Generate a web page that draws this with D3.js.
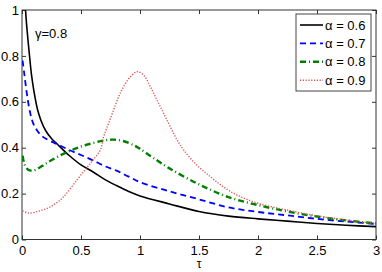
<!DOCTYPE html>
<html>
<head>
<meta charset="utf-8">
<script src="https://cdn.jsdelivr.net/npm/d3@7"></script>
<style>
  body { margin: 0; background: #fff; }
  svg { display: block; font-family: "Liberation Sans", Arial, sans-serif; }
</style>
</head>
<body>
<svg id="chart" width="382" height="272"></svg>
<script>
// data
var xTicks = [0, 0.5, 1, 1.5, 2, 2.5, 3];
var yTicks = [0, 0.2, 0.4, 0.6, 0.8, 1];
var xTickLabels = ["0", "0.5", "1", "1.5", "2", "2.5", "3"];
var yTickLabels = ["0", "0.2", "0.4", "0.6", "0.8", "1"];
var seriesNames = ["\u03b1 = 0.6", "\u03b1 = 0.7", "\u03b1 = 0.8", "\u03b1 = 0.9"];

var tau06 = [0.03, 0.04, 0.06, 0.08, 0.1, 0.13, 0.16, 0.2, 0.25, 0.3, 0.4, 0.5, 0.6, 0.7, 0.8, 0.9, 1.0, 1.25, 1.5, 1.75, 2.0, 2.25, 2.5, 2.75, 3.0];
var val06 = [1.0, 0.93, 0.82, 0.72, 0.65, 0.57, 0.52, 0.475, 0.44, 0.415, 0.366, 0.325, 0.295, 0.262, 0.235, 0.21, 0.19, 0.155, 0.122, 0.102, 0.09, 0.08, 0.07, 0.062, 0.056];

var tau07 = [0.005, 0.02, 0.04, 0.07, 0.1, 0.15, 0.2, 0.3, 0.4, 0.5, 0.6, 0.7, 0.8, 0.9, 1.0, 1.25, 1.5, 1.75, 2.0, 2.25, 2.5, 2.75, 3.0];
var val07 = [0.78, 0.72, 0.64, 0.55, 0.5, 0.46, 0.44, 0.415, 0.39, 0.368, 0.345, 0.32, 0.3, 0.275, 0.25, 0.21, 0.175, 0.14, 0.12, 0.105, 0.09, 0.078, 0.068];

var tau08 = [0.005, 0.02, 0.05, 0.08, 0.12, 0.2, 0.3, 0.4, 0.5, 0.6, 0.7, 0.77, 0.85, 0.95, 1.0, 1.1, 1.25, 1.5, 1.75, 2.0, 2.25, 2.5, 2.75, 3.0];
var val08 = [0.365, 0.33, 0.305, 0.3, 0.305, 0.33, 0.36, 0.385, 0.405, 0.42, 0.432, 0.435, 0.43, 0.41, 0.395, 0.36, 0.31, 0.24, 0.185, 0.15, 0.122, 0.1, 0.083, 0.07];

var tau09 = [0.005, 0.06, 0.15, 0.25, 0.35, 0.466, 0.545, 0.6, 0.664, 0.692, 0.734, 0.776, 0.819, 0.861, 0.918, 0.975, 1.03, 1.087, 1.144, 1.2, 1.257, 1.314, 1.37, 1.48, 1.6, 1.7, 1.82, 2.0, 2.25, 2.5, 2.75, 3.0];
var val09 = [0.125, 0.115, 0.125, 0.145, 0.185, 0.26, 0.31, 0.345, 0.39, 0.448, 0.506, 0.564, 0.622, 0.666, 0.709, 0.731, 0.717, 0.666, 0.608, 0.55, 0.491, 0.434, 0.39, 0.325, 0.272, 0.232, 0.194, 0.158, 0.128, 0.103, 0.085, 0.07];

var svg = d3.select("#chart");
var plotL = 22, plotR = 376, plotT = 10, plotB = 239.5;

var x = d3.scaleLinear().domain([0, 3]).range([plotL, plotR]);
var y = d3.scaleLinear().domain([0, 1]).range([plotB, plotT]);

svg.append("clipPath").attr("id", "clip")
    .append("rect")
    .attr("x", plotL).attr("y", plotT)
    .attr("width", plotR - plotL).attr("height", plotB - plotT);

// ticks inside, on all four sides
var axisColor = "#333";
var gx = svg.append("g").attr("transform", "translate(0," + plotB + ")")
    .call(d3.axisBottom(x).tickValues(xTicks).tickSizeInner(-4).tickSizeOuter(0)
        .tickPadding(6).tickFormat(function (d, i) { return xTickLabels[i]; }));
var gxt = svg.append("g").attr("transform", "translate(0," + plotT + ")")
    .call(d3.axisTop(x).tickValues(xTicks).tickSizeInner(-4).tickSizeOuter(0).tickFormat(""));
var gy = svg.append("g").attr("transform", "translate(" + plotL + ",0)")
    .call(d3.axisLeft(y).tickValues(yTicks).tickSizeInner(-4).tickSizeOuter(0)
        .tickPadding(3).tickFormat(function (d, i) { return yTickLabels[i]; }));
var gyr = svg.append("g").attr("transform", "translate(" + plotR + ",0)")
    .call(d3.axisRight(y).tickValues(yTicks).tickSizeInner(-4).tickSizeOuter(0).tickFormat(""));

[gx, gxt, gy, gyr].forEach(function (g) {
    g.select(".domain").remove();
    g.selectAll("line").attr("stroke", axisColor);
    g.selectAll("text").attr("font-size", "13px").attr("fill", "#000")
        .attr("font-family", "Liberation Sans, Arial, sans-serif");
});

svg.append("rect")
    .attr("x", plotL).attr("y", plotT)
    .attr("width", plotR - plotL).attr("height", plotB - plotT)
    .attr("fill", "none").attr("stroke", axisColor).attr("stroke-width", 1);

var line = d3.line()
    .x(function (d) { return x(d[0]); })
    .y(function (d) { return y(d[1]); })
    .curve(d3.curveCatmullRom.alpha(0.5));

var styles = [
    { color: "#000000", width: 1.6, dash: null },
    { color: "#0000ff", width: 1.8, dash: "6,4" },
    { color: "#008000", width: 2.4, dash: "6,3,1,3" },
    { color: "#d9534f", width: 1.4, dash: "1.2,1.6" }
];
var taus = [tau06, tau07, tau08, tau09];
var vals = [val06, val07, val08, val09];

var plot = svg.append("g").attr("clip-path", "url(#clip)");
taus.forEach(function (t, i) {
    var pts = t.map(function (d, j) { return [d, vals[i][j]]; });
    plot.append("path")
        .datum(pts)
        .attr("d", line)
        .attr("fill", "none")
        .attr("stroke", styles[i].color)
        .attr("stroke-width", styles[i].width)
        .attr("stroke-dasharray", styles[i].dash);
});

// x label
svg.append("text")
    .attr("x", x(1.5)).attr("y", 268)
    .attr("text-anchor", "middle")
    .attr("font-size", "12px")
    .text("\u03c4");

// annotation
svg.append("text")
    .attr("x", 35).attr("y", 38)
    .attr("font-size", "13px")
    .text("\u03b3=0.8");

// legend
var lg = svg.append("g");
lg.append("rect")
    .attr("x", 296).attr("y", 14)
    .attr("width", 75).attr("height", 77)
    .attr("fill", "#fff").attr("stroke", "#444").attr("stroke-width", 1);
seriesNames.forEach(function (name, i) {
    var yy = 25 + i * 18.4;
    lg.append("line")
        .attr("x1", 300).attr("x2", 323)
        .attr("y1", yy).attr("y2", yy)
        .attr("stroke", styles[i].color)
        .attr("stroke-width", styles[i].width)
        .attr("stroke-dasharray", styles[i].dash);
    lg.append("text")
        .attr("x", 325).attr("y", yy + 4.5)
        .attr("font-size", "13px")
        .text(name);
});
</script>
</body>
</html>
